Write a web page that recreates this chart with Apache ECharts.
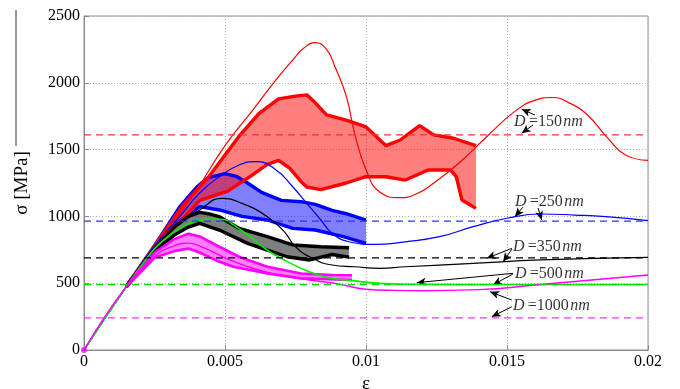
<!DOCTYPE html>
<html><head><meta charset="utf-8">
<script src="https://cdn.jsdelivr.net/npm/echarts@6/dist/echarts.min.js"></script>
<style>html,body{margin:0;padding:0;background:#fff}#c{width:680px;height:389px}</style>
</head><body><div id="c"></div>
<script>
// ---- axis ticks ----
const xTicks = [0, 0.005, 0.01, 0.015, 0.02];
const yTicks = [0, 500, 1000, 1500, 2000, 2500];

// ---- simulation curves (thin lines) ----
const red150 = [[0,0],[0.0015,475],[0.003,900],[0.004,1200],[0.005,1530],[0.006,1800],[0.0068,2020],[0.0074,2170],[0.0078,2260],[0.0082,2300],[0.0086,2250],[0.0089,2120],[0.0093,1900],[0.0096,1620],[0.0100,1350],[0.0105,1180],[0.0112,1140],[0.0118,1170],[0.0124,1250],[0.0133,1400],[0.0143,1600],[0.0153,1790],[0.0160,1870],[0.0166,1890],[0.0172,1850],[0.0178,1770],[0.0186,1580],[0.0192,1460],[0.0200,1420]];
const blue250 = [[0,0],[0.0015,475],[0.0025,780],[0.0034,1000],[0.0041,1175],[0.0048,1297],[0.0055,1385],[0.0061,1410],[0.0068,1350],[0.0074,1222],[0.0079,1098],[0.0084,973],[0.0088,873],[0.0094,810],[0.0103,790],[0.0114,810],[0.0126,848],[0.0138,923],[0.0150,986],[0.0162,1018],[0.0174,1010],[0.0185,998],[0.0200,968]];
const black350 = [[0,0],[0.0015,475],[0.0025,760],[0.0033,930],[0.0041,1048],[0.0049,1135],[0.0056,1098],[0.0065,998],[0.0071,886],[0.0075,773],[0.0081,686],[0.0088,636],[0.0096,623],[0.0105,611],[0.0114,623],[0.0138,648],[0.0162,674],[0.0200,694]];
const green500 = [[0,0],[0.0015,475],[0.0021,650],[0.0027,800],[0.0035,920],[0.0041,970],[0.0046,980],[0.0050,975],[0.0053,936],[0.0059,848],[0.0065,748],[0.0071,674],[0.0077,611],[0.0082,569],[0.0088,536],[0.0095,519],[0.0105,499],[0.012,492],[0.015,490],[0.02,490]];
const magenta1000 = [[0,0],[0.0015,475],[0.0025,700],[0.0032,780],[0.0037,800],[0.0043,760],[0.0050,690],[0.0060,610],[0.0070,560],[0.0080,524],[0.0090,495],[0.0100,455],[0.0110,446],[0.0120,444],[0.0140,452],[0.0160,486],[0.0180,524],[0.0200,561]];

// ---- scatter bands (upper / lower boundaries) ----
const redUpper = [[0.0015,475],[0.003,930],[0.0035,1080],[0.0044,1290],[0.005,1460],[0.0055,1600],[0.0062,1770],[0.0069,1880],[0.0075,1900],[0.0079,1910],[0.0082,1850],[0.0086,1760],[0.0093,1720],[0.0100,1670],[0.0107,1530],[0.0112,1570],[0.0119,1680],[0.0124,1610],[0.0131,1585],[0.0139,1530]];
const redLower = [[0.0015,475],[0.003,880],[0.0035,980],[0.0041,1120],[0.0051,1190],[0.0059,1300],[0.0065,1390],[0.0069,1420],[0.0073,1360],[0.0077,1260],[0.0079,1220],[0.0084,1200],[0.0093,1250],[0.0100,1297],[0.0107,1297],[0.0114,1272],[0.0122,1347],[0.0130,1347],[0.0132,1297],[0.0134,1123],[0.0139,1060]];
const blueUpper = [[0.0015,475],[0.0025,780],[0.0034,1073],[0.0040,1220],[0.0044,1290],[0.0050,1320],[0.0054,1300],[0.0058,1250],[0.0063,1180],[0.0070,1120],[0.0077,1110],[0.0082,1090],[0.0088,1045],[0.0093,1020],[0.0100,973]];
const blueLower = [[0.0015,475],[0.0025,760],[0.0033,950],[0.0041,1073],[0.0048,1048],[0.0056,1000],[0.0065,973],[0.0074,910],[0.0082,898],[0.0092,848],[0.0100,798]];
const grayUpper = [[0.0015,475],[0.0025,760],[0.0032,920],[0.0037,1000],[0.0041,1030],[0.0044,1020],[0.0048,998],[0.0055,910],[0.0065,848],[0.0074,786],[0.0084,773],[0.0094,765]];
const grayLower = [[0.0015,470],[0.0025,740],[0.0032,860],[0.0037,920],[0.0041,948],[0.0048,898],[0.0058,798],[0.0065,748],[0.0072,698],[0.0080,674],[0.0088,715],[0.0094,695]];
const magUpper = [[0.0015,475],[0.0025,730],[0.0032,830],[0.0037,870],[0.0041,850],[0.0048,773],[0.0055,698],[0.0065,623],[0.0077,573],[0.0088,561],[0.0095,560]];
const magLower = [[0.0015,470],[0.0025,690],[0.0032,740],[0.0037,760],[0.0041,730],[0.0048,660],[0.0053,623],[0.0065,573],[0.0077,536],[0.0095,524]];

// ---- reference (dashed) stress levels ----
const levelRed = 1610, levelBlue = 965, levelBlack = 690, levelGreen = 490, levelMagenta = 240;

// ---- annotations ----
const labels = [
  {x:0.01525, y:1707, t:'=150'},
  {x:0.01528, y:1108, t:'=250'},
  {x:0.01521, y:771, t:'=350'},
  {x:0.01528, y:569, t:'=500'},
  {x:0.01521, y:329, t:'=1000'}
];
const arrows = [
  [[0.01599,1759],[0.01552,1802]],
  [[0.01592,1684],[0.01552,1622]],
  [[0.01557,1070],[0.01528,998]],
  [[0.0161,1063],[0.01623,973]],
  [[0.01517,761],[0.01428,686]],
  [[0.01518,756],[0.01486,661]],
  [[0.01521,574],[0.0118,504]],
  [[0.01521,569],[0.0145,487]],
  [[0.01517,374],[0.0144,436]],
  [[0.01517,324],[0.01446,249]]
];

const SERIF = '"Liberation Serif","Times New Roman",serif';

function bandFill(upper, lower, fill, z) {
  return {
    type: 'custom', coordinateSystem: 'cartesian2d', silent: true, z: z,
    data: [[upper[0][0], upper[0][1]]],
    renderItem: function (params, api) {
      const pts = upper.map(p => api.coord(p)).concat(lower.slice().reverse().map(p => api.coord(p)));
      return { type: 'polygon', shape: { points: pts }, style: { fill: fill, stroke: 'none' } };
    }
  };
}
function line(data, color, width, z, smooth) {
  return { type: 'line', data: data, symbol: 'none', silent: true, z: z,
    smooth: smooth ? 0.5 : false,
    lineStyle: { color: color, width: width } };
}
function level(v, color) {
  return { type: 'line', data: [[xTicks[0], v], [xTicks[xTicks.length - 1], v]], symbol: 'none', silent: true, z: 6,
    lineStyle: { color: color, width: 1.2, type: [7, 5] } };
}

const chart = echarts.init(document.getElementById('c'), null, { renderer: 'canvas' });
chart.setOption({
  animation: false,
  backgroundColor: '#fff',
  grid: { left: 84, right: 32, top: 16, bottom: 39, show: true, borderColor: '#8c8c8c', borderWidth: 1,
    backgroundColor: 'transparent', containLabel: false, outerBoundsMode: 'none' },
  xAxis: {
    type: 'value', min: xTicks[0], max: xTicks[xTicks.length - 1], interval: 0.005,
    name: 'ε', nameLocation: 'middle', nameGap: 23,
    nameTextStyle: { fontFamily: SERIF, fontSize: 19, color: '#000' },
    axisLine: { lineStyle: { color: '#8c8c8c' } },
    axisTick: { inside: true, length: 5, lineStyle: { color: '#8c8c8c' } },
    splitLine: { show: true, lineStyle: { color: '#b0b0b0', type: [1, 2] } },
    axisLabel: { fontFamily: SERIF, fontSize: 16, color: '#000', margin: 4,
      formatter: v => String(+v.toFixed(3)) }
  },
  yAxis: {
    type: 'value', min: yTicks[0], max: yTicks[yTicks.length - 1], interval: 500,
    name: 'σ [MPa]', nameLocation: 'middle', nameGap: 52,
    nameTextStyle: { fontFamily: SERIF, fontSize: 19, color: '#000' },
    axisLine: { lineStyle: { color: '#8c8c8c' } },
    axisTick: { inside: true, length: 5, lineStyle: { color: '#8c8c8c' } },
    splitLine: { show: true, lineStyle: { color: '#b0b0b0', type: [1, 2] } },
    axisLabel: { fontFamily: SERIF, fontSize: 16, color: '#000', margin: 4, formatter: v => String(v) }
  },
  graphic: [{ type: 'line', shape: { x1: 16, y1: 10, x2: 16, y2: 146 }, style: { stroke: '#333', lineWidth: 1 } }],
  series: [
    bandFill(blueUpper, blueLower, 'rgba(0,0,255,0.5)', 1),
    bandFill(redUpper, redLower, 'rgba(255,0,0,0.5)', 2),
    bandFill(grayUpper, grayLower, 'rgba(0,0,0,0.5)', 2),
    bandFill(magUpper, magLower, 'rgba(255,0,255,0.5)', 2),
    line(blueUpper, '#0000ff', 3.4, 3), line(blueLower, '#0000ff', 3.4, 3),
    line(redUpper, '#ff0000', 3.4, 3), line(redLower, '#ff0000', 3.4, 3),
    line(grayUpper, '#000', 3.4, 3), line(grayLower, '#000', 3.4, 3),
    line(magUpper, '#ff00ff', 2.6, 3), line(magLower, '#ff00ff', 2.6, 3),
    level(levelRed, '#ff3030'), level(levelBlue, '#3030ff'), level(levelBlack, '#000'),
    level(levelGreen, '#00e000'), level(levelMagenta, '#ff30ff'),
    line(red150, '#ff0000', 1.2, 5, true),
    line(blue250, '#0000ff', 1.2, 5, true),
    line(black350, '#000', 1.2, 5, true),
    line(green500, '#00ee00', 1.6, 5, true),
    line(magenta1000, '#ff00ff', 1.4, 5, true),
    { type: 'scatter', data: [[0, 0]], symbolSize: 6, z: 7, silent: true, itemStyle: { color: '#ff00ff' } },
    {
      type: 'scatter', symbolSize: 0, z: 8, silent: true,
      data: labels.map(l => ({ value: [l.x, l.y], name: l.t })),
      label: { show: true, position: 'right', distance: 0, color: '#000',
        formatter: p => '{i|D} {n|' + p.name + '}{s| }{i|nm}',
        rich: { i: { fontFamily: SERIF, fontSize: 16, fontStyle: 'italic', color: '#000' },
                n: { fontFamily: SERIF, fontSize: 16, color: '#000' },
                s: { fontSize: 5 } } },
      markLine: {
        silent: true, animation: false, symbol: ['none', 'arrow'], symbolSize: [6, 9],
        label: { show: false }, lineStyle: { color: '#000', width: 1, type: 'solid' },
        data: arrows.map(a => [{ coord: a[0] }, { coord: a[1] }])
      }
    }
  ]
});
</script></body></html>
